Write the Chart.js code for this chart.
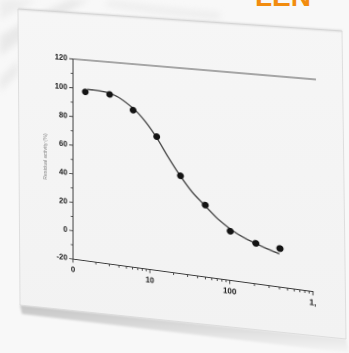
<!DOCTYPE html>
<html>
<head>
<meta charset="utf-8">
<script src="https://cdn.jsdelivr.net/npm/chart.js@4/dist/chart.umd.min.js"></script>
<style>
  html, body { margin: 0; padding: 0; }
  body {
    width: 349px; height: 353px; overflow: hidden; position: relative;
    background: #f8f8f8;
    font-family: "Liberation Sans", Arial, sans-serif;
  }
  #bg { position: absolute; left: 0; top: 0; }
  #chart { position: absolute; left: 0; top: 0; transform-origin: 0 0; }
</style>
</head>
<body>
<svg id="bg" width="349" height="353" viewBox="0 0 349 353">
  <defs>
    <linearGradient id="face" x1="0" y1="0" x2="0" y2="1">
      <stop offset="0" stop-color="#f6f6f6"/>
      <stop offset="1" stop-color="#f2f2f2"/>
    </linearGradient>
    <linearGradient id="edge" x1="0" y1="0" x2="0" y2="1">
      <stop offset="0" stop-color="#c4c4c4"/>
      <stop offset="1" stop-color="#f6f6f6"/>
    </linearGradient>
    <filter id="soft"><feGaussianBlur stdDeviation="1.2"/></filter>
    <filter id="haze"><feGaussianBlur stdDeviation="3"/></filter>
  </defs>
  <!-- soft diagonal streaks behind the card -->
  <g filter="url(#haze)" opacity="0.55">
    <path d="M0 36 C 30 18, 50 8, 70 0 L 90 0 C 60 14, 30 32, 0 56 Z" fill="#dcdcdc"/>
    <path d="M0 78 C 6 72, 12 66, 18 60 L 18 74 C 12 80, 6 86, 0 92 Z" fill="#e0e0e0"/>
    <path d="M110 0 C 140 4, 170 8, 220 12 L 220 20 C 170 16, 140 12, 104 6 Z" fill="#e6e6e6"/>
    <path d="M0 0 L 36 0 C 22 8, 10 14, 0 20 Z" fill="#e4e4e4"/>
  </g>
  <!-- card thickness along the bottom -->
  <path d="M20 305 L346 339 L349 353 L22 314 Z" fill="url(#edge)" filter="url(#soft)"/>
  <!-- card face -->
  <path d="M18 9 L342 31 L346 339 L20 305 Z" fill="url(#face)" stroke="#d8d8d8" stroke-width="0.8"/>
  <path d="M18 9 L342 31" stroke="#c2c2c2" stroke-width="1" filter="url(#soft)"/>
  <text x="255" y="6" font-family="Liberation Sans, Arial, sans-serif" font-weight="bold" font-size="28" fill="#f28c0f">LEN</text>
</svg>
<canvas id="chart" width="300" height="250"></canvas>
<script>
// Concentration (log axis) and residual activity readings
const doseX    = [1.45, 3.0, 6.0, 12, 24, 49, 100, 205, 400];
const activity = [98, 97.8, 88.5, 72, 47, 29, 13.3, 7.3, 5.8];

// Fitted dose-response curve, traced along its length
const fitX = [1.55, 3.0, 6.0, 8.6, 11.9, 16.7, 23.8, 33.5, 48.6, 69, 99, 140, 203, 280, 395];
const fitY = [100, 98.7, 89.8, 81.5, 71.5, 59, 47, 37, 28.6, 21, 15, 10.6, 7.2, 4.6, 2.2];

// Axis labels
const xTickValues = [1, 10, 100, 1000];
const xTickLabels = ['0', '10', '100', '1,'];
const yTickValues = [-20, 0, 20, 40, 60, 80, 100, 120];
const yTitle = 'Residual activity (%)';

const X_MIN = 1, X_MAX = 1000, Y_MIN = -20, Y_MAX = 120;
const INK = '#383838';

// Small outward tick marks (major + minor) and the top frame line
const axisMarks = {
  id: 'axisMarks',
  afterDraw(chart) {
    const ctx = chart.ctx;
    const xs = chart.scales.x, ys = chart.scales.y;
    const a = chart.chartArea;
    ctx.save();
    ctx.strokeStyle = INK;
    ctx.lineWidth = 0.9;
    ctx.beginPath();
    for (let d = X_MIN; d <= X_MAX; d *= 10) {
      for (let m = 1; m <= 9; m++) {
        const v = d * m;
        if (v > X_MAX) break;
        const px = xs.getPixelForValue(v);
        const len = m === 1 ? 4 : 2.6;
        ctx.moveTo(px, a.bottom);
        ctx.lineTo(px, a.bottom + len);
      }
    }
    for (let v = Y_MIN; v <= Y_MAX; v += 10) {
      const py = ys.getPixelForValue(v);
      const len = v % 20 === 0 ? 4 : 2.4;
      ctx.moveTo(a.left, py);
      ctx.lineTo(a.left - len, py);
    }
    ctx.stroke();
    // top frame line at the upper bound of the value axis
    ctx.strokeStyle = '#555';
    ctx.lineWidth = 1.1;
    ctx.beginPath();
    const ty = ys.getPixelForValue(Y_MAX);
    ctx.moveTo(a.left, ty);
    ctx.lineTo(a.right, ty);
    ctx.stroke();
    ctx.restore();
  }
};

const tickFont = { family: '"Liberation Sans", Arial, sans-serif', size: 8, weight: 'bold' };

const chart = new Chart(document.getElementById('chart'), {
  type: 'scatter',
  data: {
    datasets: [
      {
        label: 'fit',
        data: fitX.map((x, i) => ({ x, y: fitY[i] })),
        showLine: true,
        cubicInterpolationMode: 'monotone',
        borderColor: '#444',
        borderWidth: 1.4,
        pointRadius: 0,
        order: 2
      },
      {
        label: 'data',
        data: doseX.map((x, i) => ({ x, y: activity[i] })),
        pointRadius: 3,
        pointBackgroundColor: '#141414',
        pointBorderColor: '#141414',
        order: 1
      }
    ]
  },
  options: {
    responsive: false,
    animation: false,
    devicePixelRatio: 2,
    layout: { padding: { left: 6, right: 20, top: 12, bottom: 4 } },
    plugins: { legend: { display: false }, tooltip: { enabled: false } },
    scales: {
      x: {
        type: 'logarithmic',
        min: X_MIN, max: X_MAX,
        afterBuildTicks: s => { s.ticks = xTickValues.map(v => ({ value: v })); },
        grid: { drawOnChartArea: false, tickLength: 4, color: 'transparent' },
        border: { color: INK, width: 1 },
        ticks: {
          autoSkip: false, maxRotation: 0, padding: 3, color: '#1c1c1c', font: tickFont,
          callback: v => { const i = xTickValues.indexOf(v); return i < 0 ? '' : xTickLabels[i]; }
        }
      },
      y: {
        min: Y_MIN, max: Y_MAX,
        afterBuildTicks: s => { s.ticks = yTickValues.map(v => ({ value: v })); },
        grid: { drawOnChartArea: false, tickLength: 4, color: 'transparent' },
        border: { color: INK, width: 1 },
        ticks: { padding: 2, color: '#1c1c1c', font: tickFont },
        title: {
          display: true, text: yTitle, color: '#808080', padding: { top: 0, bottom: 5 },
          font: { family: '"Liberation Sans", Arial, sans-serif', size: 5.5 }
        }
      }
    }
  },
  plugins: [axisMarks]
});

// Lay the flat chart onto the tilted card: projective map of the plot corners
function homography(src, dst) {
  const A = [], b = [];
  for (let i = 0; i < 4; i++) {
    const [x, y] = src[i], [u, v] = dst[i];
    A.push([x, y, 1, 0, 0, 0, -x * u, -y * u]); b.push(u);
    A.push([0, 0, 0, x, y, 1, -x * v, -y * v]); b.push(v);
  }
  const n = 8;
  for (let c = 0; c < n; c++) {
    let p = c;
    for (let r = c + 1; r < n; r++) if (Math.abs(A[r][c]) > Math.abs(A[p][c])) p = r;
    [A[c], A[p]] = [A[p], A[c]]; [b[c], b[p]] = [b[p], b[c]];
    for (let r = 0; r < n; r++) {
      if (r === c) continue;
      const f = A[r][c] / A[c][c];
      for (let k = c; k < n; k++) A[r][k] -= f * A[c][k];
      b[r] -= f * b[c];
    }
  }
  return b.map((val, i) => val / A[i][i]).concat([1]);
}

const ca = chart.chartArea;
const h = homography(
  [[ca.left, ca.top], [ca.right, ca.top], [ca.right, ca.bottom], [ca.left, ca.bottom]],
  [[73, 59], [316, 79.5], [313, 291.5], [73, 259]]
);
document.getElementById('chart').style.transform =
  `matrix3d(${h[0]},${h[3]},0,${h[6]},${h[1]},${h[4]},0,${h[7]},0,0,1,0,${h[2]},${h[5]},0,${h[8]})`;
</script>
</body>
</html>
